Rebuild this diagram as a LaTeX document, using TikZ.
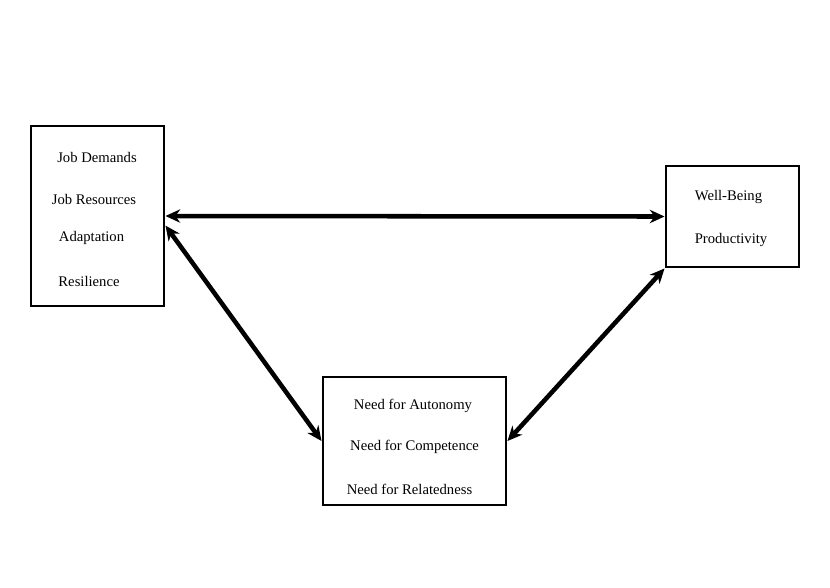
\documentclass[tikz,border=0pt]{standalone}
\usepackage{fontspec}
\setmainfont{Liberation Serif}
\usetikzlibrary{arrows.meta,positioning}
\definecolor{ink}{HTML}{000000}

\begin{document}
\begin{tikzpicture}[x=0.75pt,y=-0.75pt,font=\fontsize{11}{13}\selectfont,
    box/.style={draw=ink,line width=2.2pt,rectangle,inner sep=0pt},
    lab/.style={inner sep=0pt,anchor=center},
    link/.style={ink,line width=3.4pt,{Stealth[length=11pt,width=10pt,inset=3.5pt]}-{Stealth[length=11pt,width=10pt,inset=3.5pt]}}]
        \useasboundingbox (0,0) rectangle (830,587);

        % the three boxes
        \node[box,minimum width=99.75pt,minimum height=135pt] (jdr) at (97.5,216) {};
        \node[box,minimum width=99.75pt,minimum height=75.75pt] (out) at (732.5,216.5) {};
        \node[box,minimum width=137.25pt,minimum height=96pt] (need) at (414.5,441) {};

        % box texts
        \foreach \n/\x/\y/\lab in {jd/97/157/{Job Demands},jr/94/199/{Job Resources},
                                   ad/91.5/238/{Adaptation},re/89/281/{Resilience},
                                   wb/728.5/197/{Well-Being},pr/731/240/{Productivity},
                                   au/413/406/{Need for Autonomy},co/414.5/447/{Need for Competence},
                                   rl/409.5/489/{Need for Relatedness}} {
          \node[lab] (\n) at (\x,\y) {\lab};
        }

        % connectors
        \draw[link] (jdr.east) -- (out.west);
        \draw[link] (jdr.-8.5) -- (need.west);
        \draw[link] (need.east) -- (out.south west);
      \end{tikzpicture}
\end{document}
